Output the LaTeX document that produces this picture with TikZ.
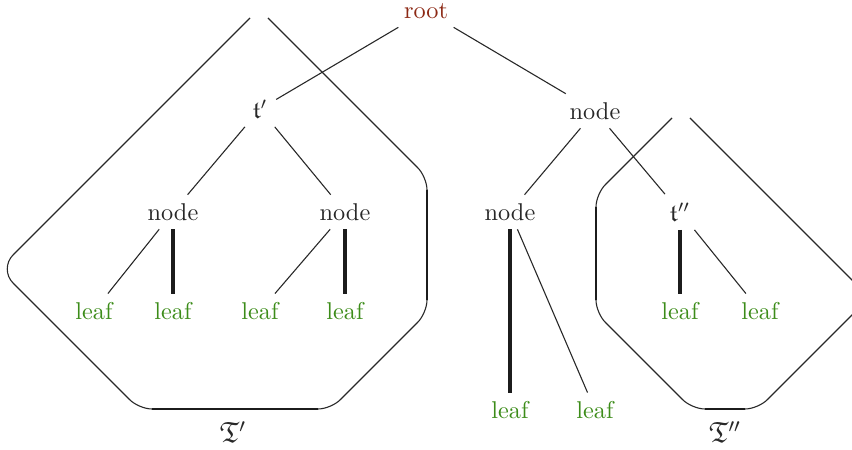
\documentclass[tikz,border=0pt]{standalone}
\usepackage{amssymb}
\definecolor{rootc}{RGB}{140,40,20}
\definecolor{leafc}{RGB}{60,140,25}
\definecolor{ink}{RGB}{40,40,40}
\begin{document}
\begin{tikzpicture}[x=0.4115pt,y=-0.4115pt,
  lbl/.style={text=ink, inner sep=3.4pt},
  rootlbl/.style={lbl,text=rootc},
  leaflbl/.style={lbl,text=leafc},
  edge/.style={draw=ink,line width=0.45pt},
  heavy/.style={draw=ink!70!black,line width=1.35pt},
  hullheavy/.style={draw=ink!70!black,line width=1.0pt},
  hull/.style={draw=ink,line width=0.45pt},
]
\useasboundingbox (0,0) rectangle (852,450);
\clip (0,0) rectangle (852,450);

% tree nodes
\node[rootlbl] (root) at (426,11) {root};
\node[lbl] (tp) at (260,109) {$\mathfrak{t}'$};
\node[lbl] (n1) at (595,111) {node};
\node[lbl] (n2) at (173,212) {node};
\node[lbl] (n3) at (345,212) {node};
\node[lbl] (n4) at (510,212) {node};
\node[lbl] (tpp) at (680,212) {$\mathfrak{t}''$};
\node[leaflbl] (l1) at (94,311) {leaf};
\node[leaflbl] (l2) at (173,311) {leaf};
\node[leaflbl] (l3) at (260,311) {leaf};
\node[leaflbl] (l4) at (345,311) {leaf};
\node[leaflbl] (l5) at (680,311) {leaf};
\node[leaflbl] (l6) at (760,311) {leaf};
\node[leaflbl] (l7) at (510,410) {leaf};
\node[leaflbl] (l8) at (595,410) {leaf};
\node[lbl,font=\large] (T1) at (233,432) {$\mathfrak{T}'$};
\node[lbl,font=\large] (T2) at (725,432) {$\mathfrak{T}''$};

% thin edges
\draw[edge] (root) -- (tp);
\draw[edge] (root) -- (n1);
\draw[edge] (tp) -- (n2);
\draw[edge] (tp) -- (n3);
\draw[edge] (n2) -- (l1);
\draw[edge] (n3) -- (l3);
\draw[edge] (n1) -- (n4);
\draw[edge] (n1) -- (tpp);
\draw[edge] (n4) -- (l8);
\draw[edge] (tpp) -- (l6);
% heavy edges
\draw[heavy] (n2) -- (l2);
\draw[heavy] (n3) -- (l4);
\draw[heavy] (n4) -- (l7);
\draw[heavy] (tpp) -- (l5);

% hull of T'
\draw[hull,rounded corners=8.2pt] (250,18) -- (-1,269) -- (69,339);
\draw[hull,rounded corners=5.35pt] (69,339) -- (139,409) -- (331,409) -- (427,313) -- (427,177) -- (268,18);
\draw[hullheavy] (152,409) -- (318,409);
\draw[hullheavy] (427,190) -- (427,300);

% hull of T''
\draw[hull,rounded corners=5.35pt] (672,118) -- (596,194) -- (596,313) -- (692,409) -- (758,409) -- (869.5,297.5) -- (690,118);
\draw[hullheavy] (705,409) -- (745,409);
\draw[hullheavy] (596,207) -- (596,300);
\end{tikzpicture}
\end{document}
